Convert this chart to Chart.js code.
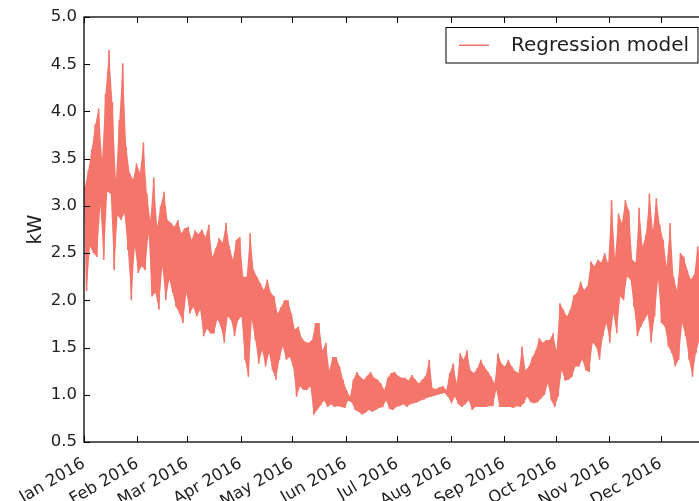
<!DOCTYPE html>
<html>
<head>
<meta charset="utf-8">
<script src="https://cdn.jsdelivr.net/npm/chart.js@4/dist/chart.umd.min.js"></script>
<style>
  html, body { margin: 0; padding: 0; background: #fff; overflow: hidden; }
  #wrap { width: 760px; height: 501px; }
</style>
</head>
<body>
<div id="wrap"><canvas id="loadChart" width="760" height="501"></canvas></div>
<script>
// Month ticks (day of year 2016, leap year)
const monthLabels = ['Jan 2016', 'Feb 2016', 'Mar 2016', 'Apr 2016', 'May 2016', 'Jun 2016',
                     'Jul 2016', 'Aug 2016', 'Sep 2016', 'Oct 2016', 'Nov 2016', 'Dec 2016'];
const monthStarts = [0, 31, 60, 91, 121, 152, 182, 213, 244, 274, 305, 335];
const yTicks = [0.5, 1.0, 1.5, 2.0, 2.5, 3.0, 3.5, 4.0, 4.5, 5.0];

// Model output, kW: peak and trough for every 2-day block
const binDays = 2;
const highs = [
  3.20, 3.38, 3.60, 3.86, 4.03, 3.49, 4.19, 4.65, 4.10, 3.28, 3.91, 4.51, 3.63, 3.35, 3.28, 3.45, // jan
  3.35, 3.67, 3.13, 2.85, 3.30, 2.78, 3.00, 3.15, 2.85, 2.82, 2.78, 2.85, 2.71, 2.76,             // feb
  2.78, 2.64, 2.74, 2.70, 2.75, 2.67, 2.80, 2.46, 2.55, 2.66, 2.61, 2.82, 2.57, 2.43, 2.64, 2.67, // mar
  2.25, 2.25, 2.71, 2.32, 2.25, 2.18, 2.11, 2.22, 2.08, 2.04, 1.86, 1.93, 2.00, 2.00, 1.86,       // apr
  1.69, 1.72, 1.60, 1.56, 1.55, 1.58, 1.76, 1.76, 1.47, 1.55, 1.26, 1.40, 1.40, 1.30, 1.16,       // may
  1.05, 0.98, 1.16, 1.24, 1.19, 1.16, 1.20, 1.24, 1.18, 1.16, 1.12, 1.05, 1.18, 1.23, 1.24,       // jun
  1.20, 1.18, 1.18, 1.15, 1.21, 1.16, 1.12, 1.16, 1.20, 1.37, 1.07, 1.06, 1.08, 1.09, 1.05,       // jul
  1.23, 1.33, 1.12, 1.44, 1.37, 1.47, 1.26, 1.23, 1.28, 1.37, 1.30, 1.25, 1.19, 1.12, 1.44, 1.33, // aug
  1.30, 1.37, 1.30, 1.25, 1.23, 1.51, 1.26, 1.30, 1.40, 1.47, 1.60, 1.55, 1.58, 1.58, 1.65,       // sep
  1.47, 1.97, 1.90, 1.83, 1.90, 2.05, 2.08, 2.20, 2.11, 2.15, 2.41, 2.36, 2.43, 2.40, 2.50, 2.39, // oct
  3.06, 2.45, 2.92, 2.82, 3.06, 2.95, 2.43, 2.40, 2.98, 2.57, 2.70, 3.13, 2.74, 3.08, 2.80,       // nov
  2.64, 2.36, 2.82, 2.25, 2.11, 2.50, 2.46, 2.32, 2.22, 2.27, 2.57, 2.40                          // dec
];
const lows = [
  2.10, 2.57, 2.50, 2.46, 3.00, 2.43, 3.15, 3.13, 2.32, 2.90, 2.85, 2.92, 2.53, 2.00, 2.57, 2.29, // jan
  2.36, 2.32, 2.71, 2.04, 2.08, 1.90, 2.36, 2.00, 2.22, 2.08, 1.93, 1.86, 1.76, 2.08,             // feb
  1.86, 1.93, 1.83, 1.90, 1.62, 1.70, 1.65, 1.65, 1.80, 1.72, 1.55, 1.83, 1.79, 1.62, 1.79, 1.83, // mar
  1.37, 1.19, 1.79, 1.58, 1.33, 1.47, 1.30, 1.44, 1.26, 1.16, 1.37, 1.51, 1.37, 1.40, 1.30,       // apr
  0.98, 1.09, 1.05, 1.05, 1.09, 0.79, 0.84, 0.89, 0.94, 0.87, 0.90, 0.87, 0.88, 0.87, 0.86,       // may
  0.94, 0.92, 0.84, 0.82, 0.79, 0.81, 0.84, 0.82, 0.84, 0.86, 0.87, 0.94, 0.85, 0.84, 0.87,       // jun
  0.88, 0.90, 0.87, 0.90, 0.91, 0.92, 0.94, 0.95, 0.97, 0.98, 0.99, 1.00, 1.01, 1.02, 0.98,       // jul
  0.91, 0.98, 0.90, 0.87, 0.90, 0.94, 0.84, 0.87, 0.87, 0.87, 0.87, 0.88, 0.88, 1.05, 0.87, 0.87, // aug
  0.87, 0.87, 0.86, 0.88, 0.87, 0.91, 0.98, 0.92, 0.91, 0.92, 0.96, 1.00, 1.12, 0.94, 0.87,       // sep
  0.98, 1.26, 1.15, 1.16, 1.19, 1.30, 1.30, 1.37, 1.26, 1.24, 1.55, 1.51, 1.37, 1.62, 1.76, 1.55, // oct
  1.86, 1.65, 2.04, 2.00, 2.25, 2.22, 1.93, 1.62, 1.72, 1.79, 1.85, 1.55, 1.83, 2.22, 1.76,       // nov
  1.72, 1.51, 1.44, 1.30, 1.37, 1.76, 1.62, 1.37, 1.19, 1.44, 1.58, 1.50                          // dec
];

const lineColor = '#f4766b';
const font = 'DejaVu Sans';

// peak then trough inside each block
const points = [];
highs.forEach((h, i) => {
    points.push({ x: i * binDays + 0.5, y: h });
    points.push({ x: i * binDays + 1.5, y: lows[i] });
});

// Hourly swings cover the area between the peak and trough outlines,
// so fill that shape under the trace
const bandPlugin = {
    id: 'band',
    beforeDatasetsDraw(chart) {
        const { ctx, chartArea: a, scales: { x, y } } = chart;
        ctx.save();
        ctx.beginPath();
        ctx.rect(a.left, a.top, a.right - a.left, a.bottom - a.top);
        ctx.clip();
        ctx.beginPath();
        highs.forEach((v, i) => {
            const px = x.getPixelForValue(i * binDays + 0.5), py = y.getPixelForValue(v);
            if (i === 0) ctx.moveTo(px, py); else ctx.lineTo(px, py);
        });
        for (let i = lows.length - 1; i >= 0; i--) {
            ctx.lineTo(x.getPixelForValue(i * binDays + 1.5), y.getPixelForValue(lows[i]));
        }
        ctx.closePath();
        ctx.fillStyle = lineColor;
        ctx.fill();
        ctx.restore();
    }
};

// Box frame, inward ticks and the in-axes legend
const framePlugin = {
    id: 'frame',
    afterDraw(chart) {
        const { ctx, chartArea: a, scales } = chart;
        ctx.save();
        ctx.strokeStyle = '#000';
        ctx.lineWidth = 1;
        ctx.beginPath();
        monthStarts.forEach(d => {
            const x = Math.round(scales.x.getPixelForValue(d)) + 0.5;
            ctx.moveTo(x, a.bottom); ctx.lineTo(x, a.bottom - 6);
            ctx.moveTo(x, a.top); ctx.lineTo(x, a.top + 6);
        });
        yTicks.forEach(v => {
            const y = Math.round(scales.y.getPixelForValue(v)) + 0.5;
            ctx.moveTo(a.left, y); ctx.lineTo(a.left + 6, y);
            ctx.moveTo(a.right, y); ctx.lineTo(a.right - 6, y);
        });
        ctx.stroke();

        ctx.lineWidth = 1.3;
        ctx.strokeRect(a.left, a.top, a.right - a.left, a.bottom - a.top);

        // legend
        const label = chart.data.datasets[0].label;
        ctx.font = '20px "' + font + '"';
        const tw = ctx.measureText(label).width;
        const right = a.right - 16;
        const left = right - (13 + 30 + 22 + tw + 9);
        const top = a.top + 10.5, bottom = a.top + 46;
        ctx.fillStyle = '#fff';
        ctx.fillRect(left, top, right - left, bottom - top);
        ctx.lineWidth = 1;
        ctx.strokeRect(left, top, right - left, bottom - top);
        const ly = (top + bottom) / 2;
        ctx.strokeStyle = lineColor;
        ctx.lineWidth = 1.5;
        ctx.beginPath();
        ctx.moveTo(left + 13, ly); ctx.lineTo(left + 43, ly);
        ctx.stroke();
        ctx.fillStyle = '#222';
        ctx.textBaseline = 'middle';
        ctx.fillText(label, left + 65, ly + 1);
        ctx.restore();
    }
};

new Chart(document.getElementById('loadChart'), {
    type: 'line',
    data: {
        datasets: [{
            label: 'Regression model',
            data: points,
            borderColor: lineColor,
            borderWidth: 1.6,
            borderJoinStyle: 'bevel',
            pointRadius: 0,
            tension: 0,
            fill: false
        }]
    },
    options: {
        responsive: false,
        animation: false,
        events: [],
        layout: { padding: { left: 21, top: 17, right: 46, bottom: 0 } },
        plugins: {
            legend: { display: false },
            tooltip: { enabled: false }
        },
        scales: {
            x: {
                type: 'linear',
                min: 0,
                max: 366,
                grid: { display: false },
                border: { display: false },
                afterBuildTicks: s => { s.ticks = monthStarts.map(v => ({ value: v })); },
                afterFit: s => { s.height = 59; },
                ticks: {
                    autoSkip: false,
                    minRotation: 30,
                    maxRotation: 30,
                    padding: 4,
                    color: '#222',
                    font: { family: font, size: 16.5 },
                    callback: v => monthLabels[monthStarts.indexOf(v)]
                }
            },
            y: {
                min: 0.5,
                max: 5.0,
                grid: { display: false, drawTicks: false },
                border: { display: false },
                afterBuildTicks: s => { s.ticks = yTicks.map(v => ({ value: v })); },
                afterFit: s => { s.width = 63; },
                title: {
                    display: true,
                    text: 'kW',
                    color: '#222',
                    font: { family: font, size: 19 },
                    padding: { top: 4, bottom: 4 }
                },
                ticks: {
                    padding: 7,
                    color: '#222',
                    font: { family: font, size: 16.5 },
                    callback: v => v.toFixed(1)
                }
            }
        }
    },
    plugins: [bandPlugin, framePlugin]
});
</script>
</body>
</html>
